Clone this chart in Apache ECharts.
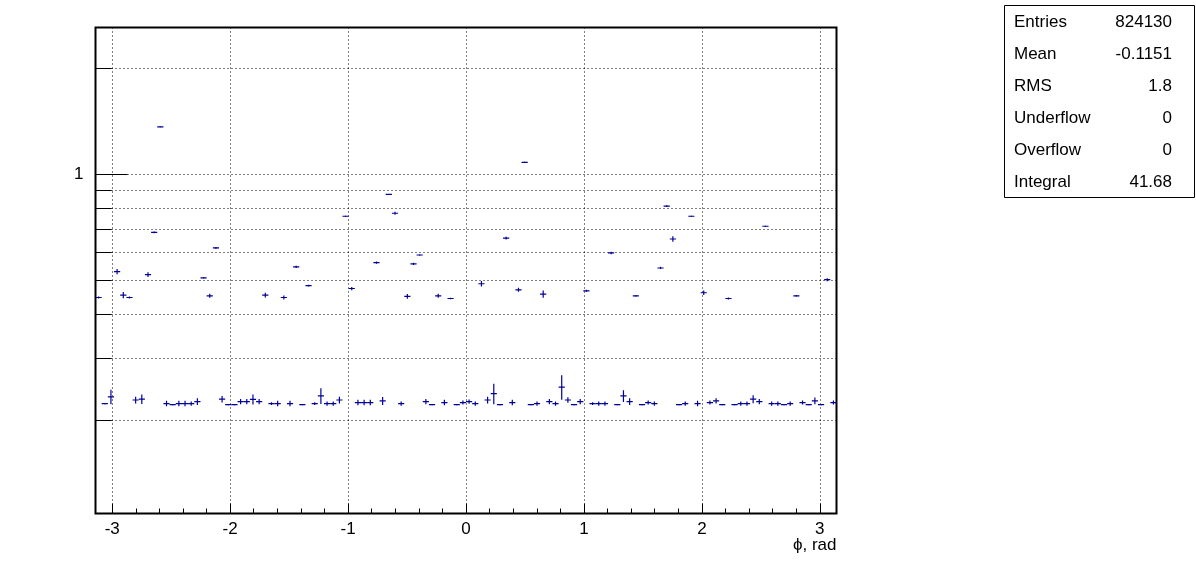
<!DOCTYPE html>
<html>
<head>
<meta charset="utf-8">
<script src="https://cdn.jsdelivr.net/npm/echarts@6/dist/echarts.min.js"></script>
<style>
html,body{margin:0;padding:0;background:#fff;}
#chart{width:1196px;height:572px;}
</style>
</head>
<body>
<div id="chart"></div>
<script>
// ---- data ----
const binValues = [
  0.447, 0.2235, 0.2335, 0.529, 0.454, 0.447, 0.2288, 0.230, 0.519, 0.684,
  1.362, 0.2235, 0.222, 0.2235, 0.2235, 0.2235, 0.2264, 0.508, 0.452, 0.618,
  0.230, 0.222, 0.222, 0.2264, 0.2264, 0.2296, 0.2264, 0.454, 0.2235, 0.2235,
  0.447, 0.2235, 0.546, 0.222, 0.483, 0.2235, 0.235, 0.2235, 0.2235, 0.2288,
  0.760, 0.474, 0.225, 0.225, 0.225, 0.561, 0.2275, 0.877, 0.775, 0.2235,
  0.450, 0.557, 0.590, 0.2264, 0.222, 0.452, 0.225, 0.444, 0.222, 0.225,
  0.2264, 0.2235, 0.489, 0.2288, 0.2384, 0.222, 0.659, 0.225, 0.470, 1.081,
  0.222, 0.2235, 0.457, 0.2264, 0.2235, 0.249, 0.2288, 0.222, 0.2264, 0.467,
  0.2235, 0.2235, 0.2235, 0.598, 0.222, 0.235, 0.2264, 0.452, 0.222, 0.225,
  0.2235, 0.542, 0.812, 0.655, 0.222, 0.2235, 0.760, 0.2235, 0.461, 0.225,
  0.2275, 0.222, 0.444, 0.222, 0.2235, 0.2235, 0.230, 0.2264, 0.712, 0.2235,
  0.2235, 0.222, 0.2235, 0.452, 0.225, 0.222, 0.2275, 0.222, 0.502, 0.225
];
const binErrors = [
  0.003, 0.001, 0.011, 0.009, 0.009, 0.003, 0.005, 0.007, 0.008, 0.004,
  0.003, 0.004, 0.001, 0.004, 0.004, 0.003, 0.005, 0.002, 0.006, 0.004,
  0.005, 0.001, 0.001, 0.004, 0.004, 0.0075, 0.004, 0.007, 0.002, 0.004,
  0.006, 0.004, 0.004, 0.001, 0.003, 0.002, 0.012, 0.003, 0.003, 0.005,
  0.002, 0.005, 0.004, 0.004, 0.004, 0.004, 0.006, 0.002, 0.008, 0.003,
  0.007, 0.004, 0.002, 0.004, 0.001, 0.006, 0.004, 0.002, 0.001, 0.003,
  0.003, 0.003, 0.009, 0.005, 0.016, 0.001, 0.006, 0.004, 0.006, 0.004,
  0.001, 0.003, 0.011, 0.004, 0.003, 0.020, 0.004, 0.001, 0.004, 0.003,
  0.002, 0.003, 0.003, 0.005, 0.001, 0.009, 0.005, 0.002, 0.001, 0.003,
  0.003, 0.004, 0.004, 0.012, 0.001, 0.003, 0.002, 0.004, 0.007, 0.003,
  0.004, 0.001, 0.003, 0.001, 0.003, 0.003, 0.006, 0.004, 0.002, 0.003,
  0.003, 0.001, 0.003, 0.002, 0.003, 0.001, 0.005, 0.001, 0.005, 0.003
];
const xRange = [-Math.PI, Math.PI];
const yRange = [0.109, 2.608];
const xTickLabels = [-3, -2, -1, 0, 1, 2, 3];
const yMinorTicks = [0.2, 0.3, 0.4, 0.5, 0.6, 0.7, 0.8, 0.9, 1, 2];
const yTickLabels = [1];
const statsLabels = ['Entries', 'Mean', 'RMS', 'Underflow', 'Overflow', 'Integral'];
const statsValues = ['824130', '-0.1151', '1.8', '0', '0', '41.68'];
const xTitle = 'ϕ, rad';

// ---- build ----
const nBins = binValues.length;
const binW = (xRange[1] - xRange[0]) / nBins;
const seriesData = binValues.map((v, i) => [xRange[0] + (i + 0.5) * binW, v, binErrors[i]]);
const xMinorTicks = [];
for (let k = -15; k <= 15; k++) {
  const v = Math.round(k * 2) / 10;
  if (k % 5 !== 0 && v > xRange[0] && v < xRange[1]) xMinorTicks.push(v);
}
const markColor = '#000099';
const font = "'Liberation Sans', Arial, Helvetica, sans-serif";
const gridDot = { color: '#000', type: [1, 3], width: 1 };

const graphics = [{
  type: 'rect', left: 1004, top: 5, z: 10,
  shape: { x: 0, y: 0, width: 190, height: 192 },
  style: { fill: '#fff', stroke: '#000', lineWidth: 1 }
}];
statsLabels.forEach((lab, i) => {
  const yc = 22.5 + i * 32;
  graphics.push({ type: 'text', x: 1014, y: yc, z: 11,
    style: { text: lab, font: '17px ' + font, fill: '#000', textAlign: 'left', textVerticalAlign: 'middle' } });
  graphics.push({ type: 'text', x: 1172, y: yc, z: 11,
    style: { text: statsValues[i], font: '17px ' + font, fill: '#000', textAlign: 'right', textVerticalAlign: 'middle' } });
});

const chart = echarts.init(document.getElementById('chart'), null, { renderer: 'canvas' });
chart.setOption({
  backgroundColor: '#fff',
  animation: false,
  grid: { left: 95.5, top: 27.5, width: 741, height: 486, show: true, borderColor: '#000', borderWidth: 2, backgroundColor: 'transparent' },
  xAxis: [{
    type: 'value', min: xRange[0], max: xRange[1], position: 'bottom',
    axisLine: { show: false, onZero: false },
    axisTick: { show: true, inside: true, length: 10, customValues: xTickLabels, lineStyle: { color: '#000', width: 1 } },
    axisLabel: { show: true, customValues: xTickLabels, formatter: v => String(Math.round(v)), fontSize: 17, fontFamily: font, color: '#000', margin: 7 },
    splitLine: { show: true, lineStyle: gridDot },
    name: xTitle, nameLocation: 'end', nameGap: 0, nameMoveOverlap: false,
    nameTextStyle: { fontSize: 17, fontFamily: font, color: '#000', align: 'right', verticalAlign: 'top', padding: [23, 0, 0, 0] }
  }, {
    type: 'value', min: xRange[0], max: xRange[1], position: 'bottom',
    axisLine: { show: false, onZero: false }, axisLabel: { show: false }, splitLine: { show: false },
    axisTick: { show: true, inside: true, length: 5, customValues: xMinorTicks, lineStyle: { color: '#000', width: 1 } }
  }],
  yAxis: [{
    type: 'log', logBase: 10, min: yRange[0], max: yRange[1], position: 'left',
    axisLine: { show: false, onZero: false },
    axisTick: { show: true, inside: true, length: 16, customValues: yMinorTicks, lineStyle: { color: '#000', width: 1 } },
    axisLabel: { show: true, customValues: yTickLabels, formatter: v => String(Math.round(v)), fontSize: 17, fontFamily: font, color: '#000', margin: 12 },
    splitLine: { show: true, lineStyle: gridDot }
  }, {
    type: 'log', logBase: 10, min: yRange[0], max: yRange[1], position: 'left',
    axisLine: { show: false, onZero: false }, axisLabel: { show: false }, splitLine: { show: false },
    axisTick: { show: true, inside: true, length: 32, customValues: yTickLabels, lineStyle: { color: '#000', width: 1 } }
  }],
  graphic: graphics,
  series: [{
    type: 'custom', xAxisIndex: 0, yAxisIndex: 0, clip: true,
    data: seriesData,
    renderItem: function (params, api) {
      const xc = api.value(0), v = api.value(1), e = api.value(2);
      const pL = api.coord([xc - binW / 2, v]);
      const pR = api.coord([xc + binW / 2, v]);
      const pT = api.coord([xc, v + e]);
      const pB = api.coord([xc, Math.max(v - e, 1e-6)]);
      const st = { stroke: markColor, lineWidth: 1.2 };
      return { type: 'group', children: [
        { type: 'line', shape: { x1: pL[0], y1: pL[1], x2: pR[0], y2: pR[1] }, style: st },
        { type: 'line', shape: { x1: pT[0], y1: pT[1], x2: pB[0], y2: pB[1] }, style: st }
      ]};
    }
  }]
});
</script>
</body>
</html>
